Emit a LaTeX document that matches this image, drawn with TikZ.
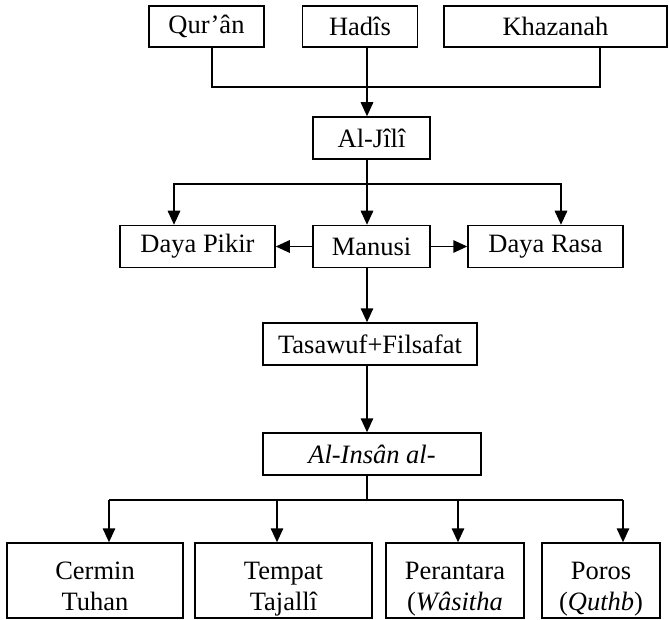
\documentclass[tikz,border=0pt]{standalone}
\usepackage{fontspec}
\setmainfont{Liberation Serif}
\usetikzlibrary{arrows.meta}

\tikzset{
  box/.style={draw, line width=1.5pt, inner sep=0pt, align=center,
    font=\fontsize{26.5}{31}\selectfont},
  onerow/.style={box, minimum height=42pt},
  tworow/.style={box, minimum height=75pt},
  conn/.style={line width=1.5pt},
  arr/.style={conn, -{Triangle[length=14pt,width=12.5pt]}}
}
% struts giving every two-line label the same height and depth
\newcommand{\topstrut}{\rule{0pt}{34pt}}
\newcommand{\botstrut}{\rule[-6pt]{0pt}{6pt}}

\begin{document}
\begin{tikzpicture}[x=1pt, y=-1pt]
\useasboundingbox (0,0) rectangle (669,620);

% sources
\node[onerow, minimum width=115pt, minimum height=41pt] (quran) at (206.5,26.5) {Qur’ân};
\node[onerow, minimum width=115pt, minimum height=41pt] (hadis) at (360,26.5) {Hadîs};
\node[onerow, minimum width=223pt, minimum height=41pt] (khaz)  at (555.5,26.5) {Khazanah};

% thinker
\node[onerow, minimum width=117pt] (jili) at (371.5,138) {Al-Jîlî};

% human faculties
\node[onerow, minimum width=155pt] (pikir)  at (197.5,246.5) {Daya Pikir};
\node[onerow, minimum width=117pt] (manusi) at (371.5,246.5) {Manusi};
\node[onerow, minimum width=155pt] (rasa)   at (545.5,246.5) {Daya Rasa};

\node[onerow, minimum width=214pt] (tasawuf) at (370,344) {Tasawuf+Filsafat};
\node[onerow, minimum width=218pt] (insan)   at (372,454) {\textit{Al-Insân al-}};

% functions
\node[tworow, minimum width=176pt] (cermin)    at (95,580.5)    {\topstrut Cermin\\Tuhan\botstrut};
\node[tworow, minimum width=177pt] (tempat)    at (283.5,580.5) {\topstrut Tempat\\Tajallî\botstrut};
\node[tworow, minimum width=138pt] (perantara) at (455,580.5)   {\topstrut Perantara\\(\textit{Wâsitha}\botstrut};
\node[tworow, minimum width=118pt] (poros)     at (601,580.5)   {\topstrut Poros\\(\textit{Quthb})\botstrut};

% junction points on the main axis
\coordinate (topjoin) at (367,87);
\coordinate (midjoin) at (367,184);
\coordinate (lowjoin) at (367,500);

% sources into Al-Jili
\draw[conn] ([xshift=5.5pt]quran.south) |- (topjoin) -| ([xshift=44.5pt]khaz.south);
\draw[arr] ([xshift=7pt]hadis.south) -- (jili.north -| topjoin);

% Al-Jili splits into three
\draw[arr] (jili.south -| midjoin) -- (manusi.north -| midjoin);
\draw[arr] (midjoin) -| ([xshift=-23.5pt]pikir.north);
\draw[arr] (midjoin) -| ([xshift=15.5pt]rasa.north);

% Manusi sideways
\draw[arr] (manusi.west) -- (pikir.east);
\draw[arr] (manusi.east) -- (rasa.west);

% down the axis
\draw[arr] (manusi.south -| midjoin) -- (tasawuf.north -| midjoin);
\draw[arr] (tasawuf.south -| midjoin) -- (insan.north -| midjoin);

% Al-Insan splits into four
\draw[conn] (insan.south -| lowjoin) -- (lowjoin);
\draw[conn] ([xshift=14pt]cermin.north |- lowjoin) -- ([xshift=22pt]poros.north |- lowjoin);
\draw[arr] ([xshift=14pt]cermin.north |- lowjoin) -- ([xshift=14pt]cermin.north);
\draw[arr] ([xshift=-6.5pt]tempat.north |- lowjoin) -- ([xshift=-6.5pt]tempat.north);
\draw[arr] ([xshift=3pt]perantara.north |- lowjoin) -- ([xshift=3pt]perantara.north);
\draw[arr] ([xshift=22pt]poros.north |- lowjoin) -- ([xshift=22pt]poros.north);
\end{tikzpicture}
\end{document}
